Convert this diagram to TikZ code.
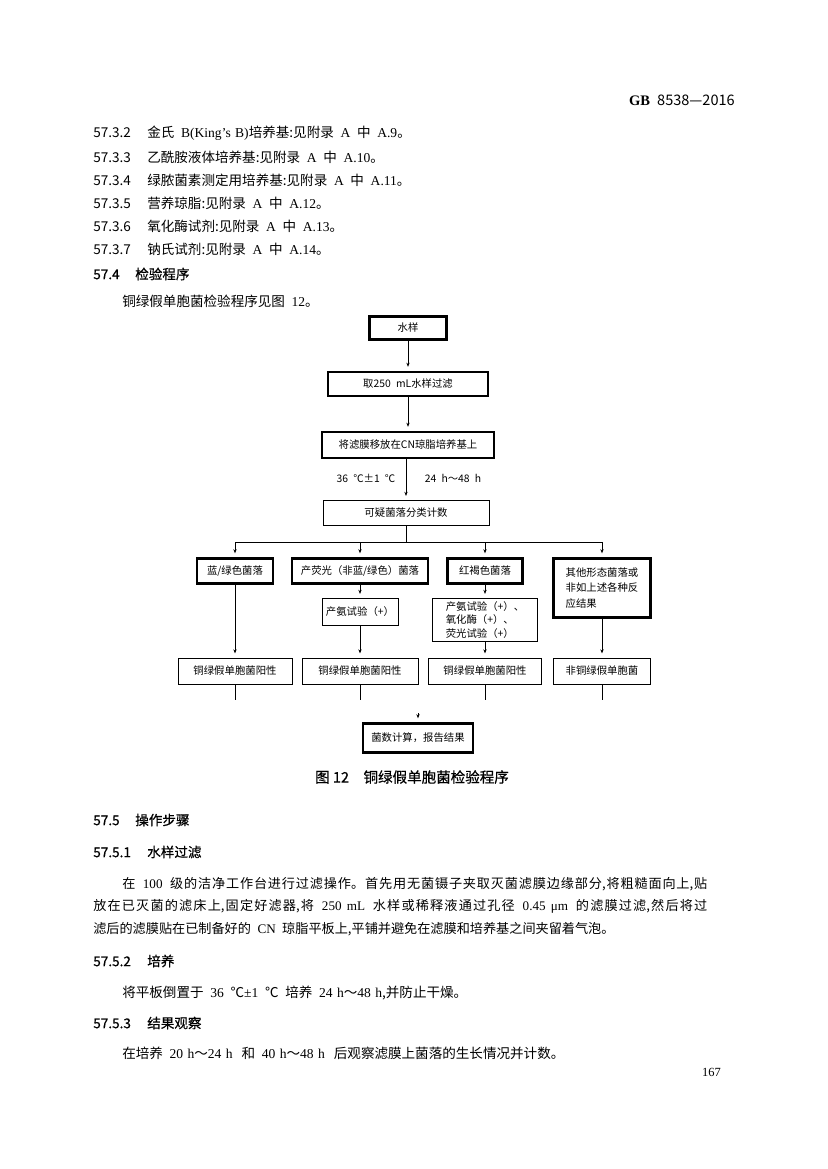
\documentclass[tikz,border=0pt]{standalone}
\usepackage{fontspec}
\setmainfont{Noto Sans CJK SC}[WordSpace=2.2]
\newfontfamily\latserif{Liberation Serif}[WordSpace=1.3]
\newfontfamily\heiti[FakeBold=0.6]{Noto Sans CJK SC}
\usetikzlibrary{arrows.meta,positioning}
\XeTeXlinebreaklocale "zh"
\XeTeXlinebreakskip=0pt plus 2pt
\newdimen\pxu
\pxu=0.254mm
\newcommand\lsf[1]{{\latserif #1}}
\newcommand\numbox[2][54]{\makebox[#1\pxu][l]{#2}}
\tikzset{
    stepbox/.style={
        draw,
        line width=1.5pt,
        inner sep=1pt,
        align=center,
        font=\fontsize{7.5}{10}\selectfont
    },
    checkbox/.style={
        stepbox,
        line width=0.6pt
    },
    flow/.style={
        line width=0.6pt,
        -{Stealth[length=3pt, width=2.4pt]},
        shorten >=3pt
    },
    link/.style={
        line width=0.6pt
    },
    bodyline/.style={
        anchor=west,
        inner sep=0pt,
        font=\fontsize{9.8}{12}\selectfont
    },
    headline/.style={
        bodyline,
        font=\heiti\fontsize{9.8}{12}\selectfont
    }
}

\begin{document}
\begin{tikzpicture}[x=0.254mm, y=-0.254mm]
    \fill[white] (0,0) rectangle (827,1169);
    \useasboundingbox (0,0) rectangle (827,1169);

    % Page head
    \node[anchor=east, inner sep=0pt, font=\fontsize{10.5}{12}\selectfont] (pagehead) at (735,100) {\textbf{\lsf{GB}} 8538—2016};

    % 57.3 reagents
    \node[bodyline] (r332) at (93,133) {\numbox{57.3.2}金氏 \lsf{B(King’s B)}培养基:见附录 \lsf{A} 中 \lsf{A.9}。};
    \node[bodyline] (r333) at (93,157) {\numbox{57.3.3}乙酰胺液体培养基:见附录 \lsf{A} 中 \lsf{A.10}。};
    \node[bodyline] (r334) at (93,180) {\numbox{57.3.4}绿脓菌素测定用培养基:见附录 \lsf{A} 中 \lsf{A.11}。};
    \node[bodyline] (r335) at (93,203) {\numbox{57.3.5}营养琼脂:见附录 \lsf{A} 中 \lsf{A.12}。};
    \node[bodyline] (r336) at (93,226) {\numbox{57.3.6}氧化酶试剂:见附录 \lsf{A} 中 \lsf{A.13}。};
    \node[bodyline] (r337) at (93,249) {\numbox{57.3.7}钠氏试剂:见附录 \lsf{A} 中 \lsf{A.14}。};

    % 57.4
    \node[headline] (h574) at (93,274) {\numbox[42]{57.4}检验程序};
    \node[bodyline] (t574) at (122,301) {铜绿假单胞菌检验程序见图 \lsf{12}。};

    % Flow chart boxes
    \node[stepbox, minimum width=77\pxu, minimum height=23\pxu] (water) at (408,328) {水样};
    \node[stepbox, minimum width=160\pxu, minimum height=24\pxu] (filt) at (408,384) {取250 mL水样过滤};
    \node[stepbox, minimum width=172\pxu, minimum height=26\pxu] (plate) at (408,445) {将滤膜移放在CN琼脂培养基上};
    \node[checkbox, minimum width=166\pxu, minimum height=25\pxu] (count) at (406,513) {可疑菌落分类计数};
    \node[font=\fontsize{7.5}{10}\selectfont, inner sep=0pt] (temp) at (366,478) {36 ℃±1 ℃};
    \node[font=\fontsize{7.5}{10}\selectfont, inner sep=0pt] (time) at (453,478) {24 h～48 h};

    \node[stepbox, minimum width=76\pxu, minimum height=25\pxu] (blue) at (235,571) {蓝/绿色菌落};
    \node[stepbox, minimum width=136\pxu, minimum height=25\pxu] (fluor) at (360,571) {产荧光（非蓝/绿色）菌落};
    \node[stepbox, minimum width=75\pxu, minimum height=25\pxu] (red) at (485,571) {红褐色菌落};
    \node[stepbox, minimum width=97\pxu, minimum height=59\pxu, align=left, font=\fontsize{7.5}{11}\selectfont] (other) at (602,588) {其他形态菌落或\\非如上述各种反\\应结果};

    \node[checkbox, minimum width=76\pxu, minimum height=27\pxu] (ammo) at (360,612) {产氨试验（+）};
    \node[checkbox, minimum width=105\pxu, minimum height=43\pxu, align=left] (tests) at (485,620) {产氨试验（+）、\\氧化酶（+）、\\荧光试验（+）};

    \node[checkbox, minimum width=114\pxu, minimum height=26\pxu] (res1) at (235,671) {铜绿假单胞菌阳性};
    \node[checkbox, minimum width=116\pxu, minimum height=26\pxu] (res2) at (360,671) {铜绿假单胞菌阳性};
    \node[checkbox, minimum width=113\pxu, minimum height=26\pxu] (res3) at (485,671) {铜绿假单胞菌阳性};
    \node[checkbox, minimum width=97\pxu, minimum height=26\pxu] (res4) at (602,671) {非铜绿假单胞菌};

    \node[stepbox, minimum width=110\pxu, minimum height=29\pxu] (final) at (418,738) {菌数计算，报告结果};

    % Flow chart connectors
    \coordinate (bar) at (406,542);
    \coordinate (barA) at (235,542);
    \coordinate (barB) at (360,542);
    \coordinate (barC) at (485,542);
    \coordinate (barD) at (602,542);
    \coordinate (endA) at (235,700);
    \coordinate (endB) at (360,700);
    \coordinate (endC) at (485,700);
    \coordinate (endD) at (602,700);
    \coordinate (finin) at (418,713);

    \draw[flow] (water) -- (filt);
    \draw[flow] (filt) -- (plate);
    \draw[flow] (plate.south -| count) -- (count);
    \draw[link] (count) -- (bar);
    \draw[link] (barA) -- (barD);
    \draw[flow] (barA) -- (blue);
    \draw[flow] (barB) -- (fluor);
    \draw[flow] (barC) -- (red);
    \draw[flow] (barD) -- (other);
    \draw[flow] (blue) -- (res1);
    \draw[flow] (fluor) -- (ammo);
    \draw[flow] (ammo) -- (res2);
    \draw[flow] (red) -- (tests);
    \draw[flow] (tests) -- (res3);
    \draw[flow] (other) -- (res4);
    \draw[link] (res1) -- (endA);
    \draw[link] (res2) -- (endB);
    \draw[link] (res3) -- (endC);
    \draw[link] (res4) -- (endD);
    \draw[flow] (finin) -- (final);

    % Caption
    \node[font=\heiti\fontsize{10.5}{12}\selectfont, inner sep=0pt] (caption) at (412,777) {图 12\quad 铜绿假单胞菌检验程序};

    % 57.5 procedure
    \node[headline] (h575) at (93,820) {\numbox[42]{57.5}操作步骤};
    \node[headline] (h5751) at (93,852) {\numbox{57.5.1}水样过滤};
    \node[anchor=base west, inner sep=0pt, text width=614\pxu, align=justify, font=\fontsize{9.5}{16.6}\selectfont] (p5751) at (93,888)
        {\hspace*{29\pxu}在 \lsf{100} 级的洁净工作台进行过滤操作。首先用无菌镊子夹取灭菌滤膜边缘部分,将粗糙面向上,贴\linebreak
        放在已灭菌的滤床上,固定好滤器,将 \lsf{250 mL} 水样或稀释液通过孔径 \lsf{0.45 μm} 的滤膜过滤,然后将过\linebreak
        滤后的滤膜贴在已制备好的 \lsf{CN} 琼脂平板上,平铺并避免在滤膜和培养基之间夹留着气泡。};
    \node[headline] (h5752) at (93,961) {\numbox{57.5.2}培养};
    \node[bodyline] (t5752) at (122,993) {将平板倒置于 \lsf{36} ℃\lsf{±1} ℃ 培养 \lsf{24 h}～\lsf{48 h},并防止干燥。};
    \node[headline] (h5753) at (93,1023) {\numbox{57.5.3}结果观察};
    \node[bodyline] (t5753) at (122,1053) {在培养 \lsf{20 h}～\lsf{24 h}\, 和 \lsf{40 h}～\lsf{48 h}\, 后观察滤膜上菌落的生长情况并计数。};

    % Page number
    \node[anchor=east, inner sep=0pt, font=\fontsize{9}{11}\selectfont] (pagenum) at (721,1072) {\lsf{167}};
\end{tikzpicture}
\end{document}
